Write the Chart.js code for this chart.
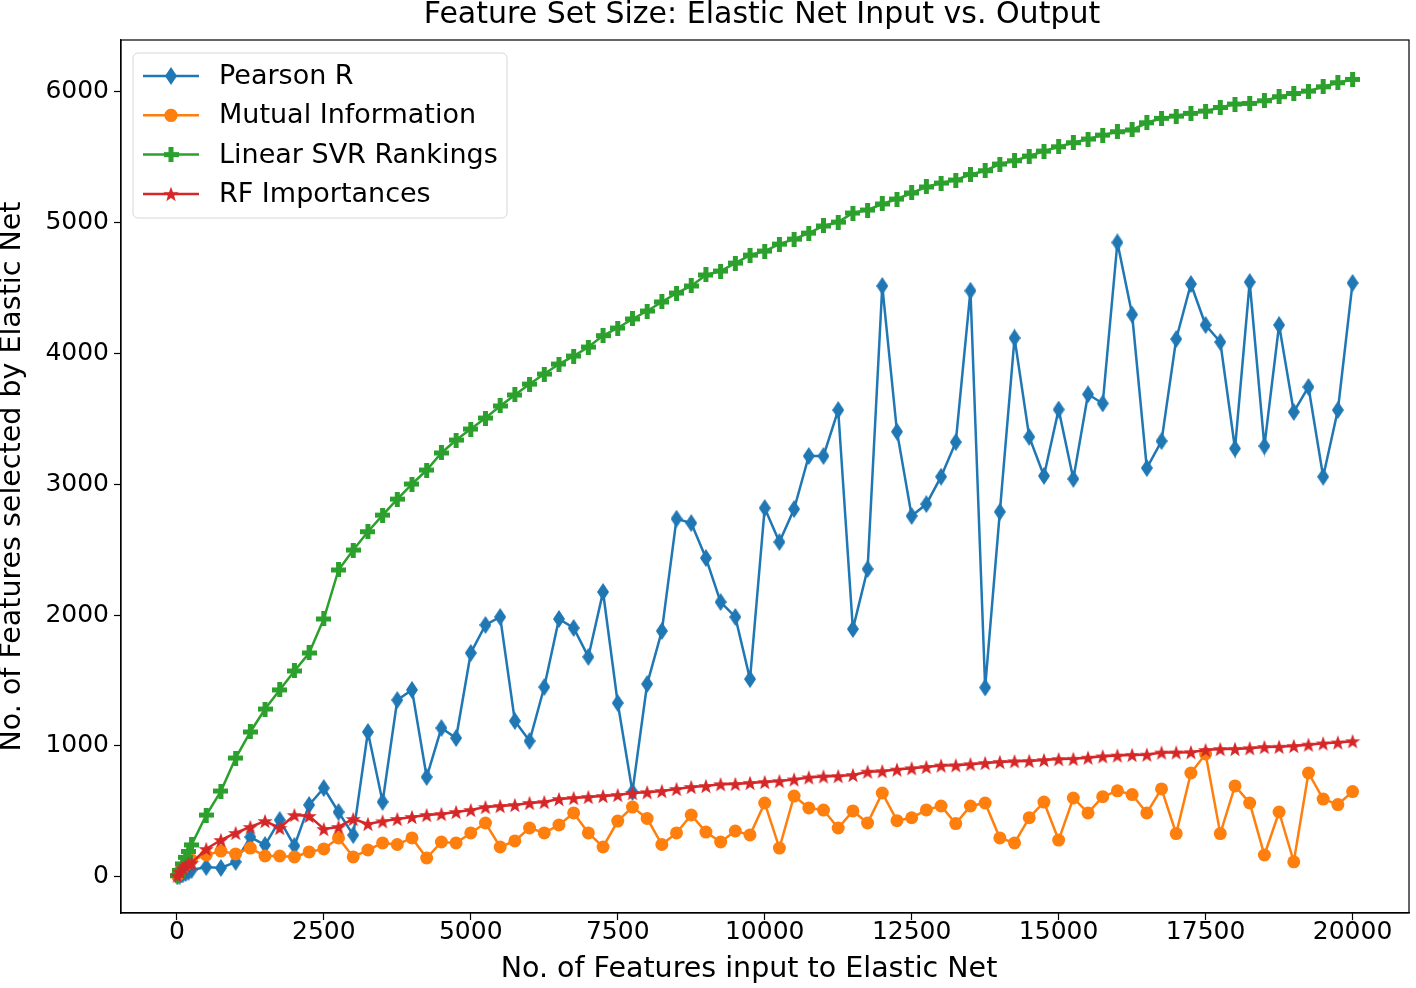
<!DOCTYPE html>
<html>
<head>
<meta charset="utf-8">
<script src="https://cdn.jsdelivr.net/npm/chart.js@4"></script>
<style>
  html, body { margin: 0; padding: 0; background: #fff; }
  canvas { display: block; }
</style>
</head>
<body>
<canvas id="chart" width="1416" height="988"></canvas>
<script>
// data
const inputSizes = [10, 50, 100, 150, 200, 250, 500, 750, 1000, 1250, 1500, 1750, 2000, 2250, 2500, 2750, 3000, 3250, 3500, 3750, 4000, 4250, 4500, 4750, 5000, 5250, 5500, 5750, 6000, 6250, 6500, 6750, 7000, 7250, 7500, 7750, 8000, 8250, 8500, 8750, 9000, 9250, 9500, 9750, 10000, 10250, 10500, 10750, 11000, 11250, 11500, 11750, 12000, 12250, 12500, 12750, 13000, 13250, 13500, 13750, 14000, 14250, 14500, 14750, 15000, 15250, 15500, 15750, 16000, 16250, 16500, 16750, 17000, 17250, 17500, 17750, 18000, 18250, 18500, 18750, 19000, 19250, 19500, 19750, 20000];

const pearsonR = [5, 10, 20, 30, 40, 53, 76, 69, 115, 305, 244, 435, 237, 550, 679, 496, 320, 1107, 573, 1351, 1428, 763, 1137, 1061, 1710, 1924, 1985, 1191, 1038, 1450, 1970, 1901, 1680, 2176, 1328, 649, 1473, 1878, 2735, 2702, 2435, 2099, 1985, 1511, 2817, 2557, 2809, 3214, 3214, 3565, 1893, 2351, 4512, 3400, 2756, 2847, 3056, 3320, 4476, 1447, 2788, 4115, 3360, 3062, 3569, 3039, 3685, 3615, 4844, 4294, 3122, 3328, 4107, 4527, 4214, 4084, 3271, 4542, 3290, 4214, 3550, 3741, 3056, 3565, 4535];

const mutualInfo = [10, 40, 70, 95, 110, 130, 168, 198, 176, 221, 160, 160, 153, 191, 214, 298, 153, 206, 260, 248, 298, 145, 267, 260, 336, 412, 229, 275, 374, 336, 397, 489, 336, 229, 427, 534, 447, 248, 336, 473, 343, 267, 351, 321, 565, 221, 618, 527, 511, 374, 504, 412, 641, 430, 452, 512, 542, 408, 542, 565, 298, 260, 453, 572, 282, 603, 489, 613, 658, 629, 489, 672, 331, 794, 939, 331, 695, 565, 168, 496, 116, 794, 595, 553, 652];

const svrRankings = [10, 50, 100, 150, 195, 245, 473, 656, 908, 1107, 1282, 1428, 1573, 1710, 1970, 2344, 2496, 2636, 2763, 2885, 3000, 3107, 3237, 3336, 3420, 3504, 3596, 3680, 3763, 3840, 3916, 3977, 4046, 4133, 4191, 4260, 4321, 4390, 4458, 4512, 4596, 4626, 4687, 4748, 4779, 4832, 4870, 4916, 4970, 5000, 5069, 5092, 5138, 5176, 5222, 5268, 5298, 5321, 5363, 5392, 5443, 5468, 5504, 5542, 5575, 5606, 5634, 5664, 5690, 5703, 5758, 5792, 5809, 5830, 5847, 5875, 5901, 5906, 5926, 5957, 5982, 6000, 6033, 6064, 6089];

const rfImportances = [10, 40, 65, 85, 100, 107, 214, 282, 336, 382, 427, 374, 473, 466, 366, 382, 443, 405, 425, 443, 458, 473, 481, 496, 511, 534, 542, 550, 565, 572, 595, 603, 611, 618, 626, 641, 647, 656, 672, 687, 695, 708, 710, 718, 725, 732, 745, 760, 768, 770, 779, 804, 808, 820, 830, 840, 851, 853, 861, 870, 878, 884, 886, 893, 900, 902, 911, 921, 927, 932, 934, 950, 951, 953, 969, 977, 978, 983, 992, 994, 1000, 1010, 1020, 1027, 1037];

const seriesNames = ["Pearson R", "Mutual Information", "Linear SVR Rankings", "RF Importances"];
const xTicks = [0, 2500, 5000, 7500, 10000, 12500, 15000, 17500, 20000];
const yTicks = [0, 1000, 2000, 3000, 4000, 5000, 6000];
const chartTitle = "Feature Set Size: Elastic Net Input vs. Output";
const xTitle = "No. of Features input to Elastic Net";
const yTitle = "No. of Features selected by Elastic Net";

const FONT = "'DejaVu Sans', sans-serif";
const BLUE = "#1f77b4", ORANGE = "#ff7f0e", GREEN = "#2ca02c", RED = "#d62728";

// ===================================
// MARKERS (matplotlib style)
// ===================================
function makeMarker(w, h, color, drawFn) {
  const c = document.createElement("canvas");
  c.width = w;
  c.height = h;
  const g = c.getContext("2d");
  g.fillStyle = color;
  drawFn(g, w, h);
  return c;
}

// thin diamond 'd'
const diamond = makeMarker(12, 18, BLUE, (g, w, h) => {
  g.beginPath();
  g.moveTo(w / 2, 0);
  g.lineTo(w, h / 2);
  g.lineTo(w / 2, h);
  g.lineTo(0, h / 2);
  g.closePath();
  g.fill();
});

// filled plus 'P'
const plus = makeMarker(15, 15, GREEN, (g, w, h) => {
  const t = 5;
  g.fillRect((w - t) / 2, 0, t, h);
  g.fillRect(0, (h - t) / 2, w, t);
});

// filled star '*'
const star = makeMarker(16, 16, RED, (g, w, h) => {
  const cx = w / 2, cy = h / 2 + 0.8, ro = 8, ri = 3.3;
  g.beginPath();
  for (let i = 0; i < 10; i++) {
    const r = i % 2 === 0 ? ro : ri;
    const a = -Math.PI / 2 + i * Math.PI / 5;
    const px = cx + r * Math.cos(a), py = cy + r * Math.sin(a);
    if (i === 0) g.moveTo(px, py); else g.lineTo(px, py);
  }
  g.closePath();
  g.fill();
});

function toPoints(values) {
  return inputSizes.map((x, i) => ({ x: x, y: values[i] }));
}

function dataset(label, values, color, pointStyle, radius, order) {
  return {
    label: label,
    data: toPoints(values),
    borderColor: color,
    backgroundColor: color,
    borderWidth: 2.5,
    pointStyle: pointStyle,
    pointRadius: radius,
    pointBorderWidth: 0,
    pointBackgroundColor: color,
    pointBorderColor: color,
    tension: 0,
    fill: false,
    order: order
  };
}

// ===================================
// PLUGINS: titles, frame, legend inside the axes
// ===================================
const axesTitles = {
  id: "axesTitles",
  afterDraw(chart) {
    const { ctx, chartArea: a } = chart;
    const cx = (a.left + a.right) / 2;
    ctx.save();
    ctx.fillStyle = "#000";
    ctx.textAlign = "center";
    ctx.textBaseline = "middle";
    ctx.font = "30px " + FONT;
    ctx.fillText(chartTitle, cx - 3, 15);
    ctx.font = "28.5px " + FONT;
    ctx.fillText(xTitle, cx - 16, 970);
    ctx.restore();
  }
};

const framePlugin = {
  id: "frame",
  afterDraw(chart) {
    const { ctx, chartArea: a } = chart;
    ctx.save();
    ctx.strokeStyle = "#000";
    ctx.lineWidth = 1.2;
    ctx.strokeRect(a.left, a.top, a.right - a.left, a.bottom - a.top);
    ctx.restore();
  }
};

const boxLegend = {
  id: "boxLegend",
  afterDraw(chart) {
    const { ctx, chartArea: a } = chart;
    const x0 = a.left + 12, y0 = a.top + 13, w = 374, h = 165, r = 5;
    ctx.save();
    ctx.beginPath();
    ctx.roundRect(x0, y0, w, h, r);
    ctx.fillStyle = "rgba(255,255,255,0.8)";
    ctx.fill();
    ctx.strokeStyle = "#d6d6d6";
    ctx.lineWidth = 1;
    ctx.stroke();

    ctx.font = "27px " + FONT;
    ctx.textBaseline = "middle";
    ctx.textAlign = "left";
    chart.data.datasets.forEach((ds, i) => {
      const cy = y0 + 23 + i * 39.3;
      ctx.strokeStyle = ds.borderColor;
      ctx.lineWidth = 2.5;
      ctx.beginPath();
      ctx.moveTo(x0 + 10, cy);
      ctx.lineTo(x0 + 66, cy);
      ctx.stroke();
      const ps = ds.pointStyle;
      if (typeof ps === "string") {
        ctx.fillStyle = ds.borderColor;
        Chart.helpers.drawPoint(ctx, { pointStyle: ps, radius: ds.pointRadius, borderWidth: 0 }, x0 + 38, cy);
        ctx.fill();
      } else {
        ctx.drawImage(ps, x0 + 38 - ps.width / 2, cy - ps.height / 2);
      }
      ctx.fillStyle = "#000";
      ctx.fillText(ds.label, x0 + 86, cy + 1);
    });
    ctx.restore();
  }
};

// ===================================
// CHART
// ===================================
new Chart(document.getElementById("chart").getContext("2d"), {
  type: "line",
  data: {
    datasets: [
      dataset(seriesNames[0], pearsonR, BLUE, diamond, 7, 3),
      dataset(seriesNames[1], mutualInfo, ORANGE, "circle", 6.5, 2),
      dataset(seriesNames[2], svrRankings, GREEN, plus, 7, 1),
      dataset(seriesNames[3], rfImportances, RED, star, 7, 0)
    ]
  },
  options: {
    responsive: false,
    animation: false,
    devicePixelRatio: 1,
    layout: { padding: { left: 0, right: 2, top: 40, bottom: 0 } },
    plugins: {
      legend: { display: false },
      tooltip: { enabled: false },
      title: { display: false }
    },
    scales: {
      x: {
        type: "linear",
        min: -950,
        max: 20960,
        afterFit(scale) { scale.height = 75; },
        afterBuildTicks(scale) { scale.ticks = xTicks.map(v => ({ value: v })); },
        ticks: {
          color: "#000",
          font: { family: FONT, size: 25, lineHeight: 1 },
          padding: 0,
          maxRotation: 0,
          autoSkip: false,
          callback: v => String(v)
        },
        grid: { drawOnChartArea: false, tickLength: 7, tickColor: "#000", tickWidth: 1.2 },
        border: { display: true, color: "#000", width: 1.2 },
        title: { display: false }
      },
      y: {
        type: "linear",
        min: -275,
        max: 6390,
        afterFit(scale) { scale.width = 121; },
        afterBuildTicks(scale) { scale.ticks = yTicks.map(v => ({ value: v })); },
        ticks: {
          color: "#000",
          font: { family: FONT, size: 25 },
          padding: 5,
          autoSkip: false,
          callback: v => String(v)
        },
        grid: { drawOnChartArea: false, tickLength: 7, tickColor: "#000", tickWidth: 1.2 },
        border: { display: true, color: "#000", width: 1.2 },
        title: {
          display: true,
          text: yTitle,
          color: "#000",
          font: { family: FONT, size: 28.5, lineHeight: 0.85 },
          padding: { top: 0, bottom: 0 }
        }
      }
    }
  },
  plugins: [framePlugin, boxLegend, axesTitles]
});
</script>
</body>
</html>
